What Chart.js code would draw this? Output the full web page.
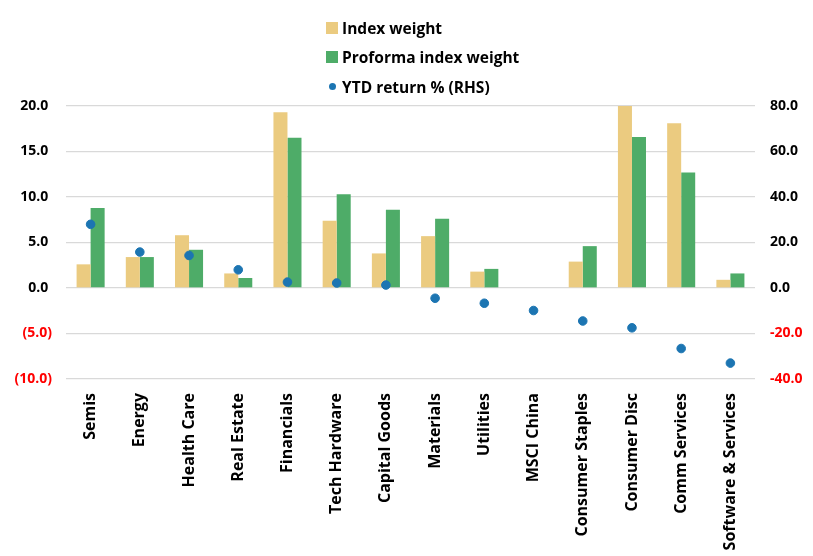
<!DOCTYPE html>
<html>
<head>
<meta charset="utf-8">
<script src="https://cdn.jsdelivr.net/npm/chart.js@4.4.1/dist/chart.umd.min.js"></script>
<style>
  html, body { margin: 0; padding: 0; background: #fff; }
  #wrap { position: relative; width: 813px; height: 556px; }
  #legend { position: absolute; left: 326px; top: 13px; font-family: "Open Sans", sans-serif; font-weight: bold; font-size: 15.5px; color: #000; }
  .item { height: 29.5px; display: flex; align-items: center; }
  .box { width: 12px; height: 12px; margin-right: 4px; }
  .dot { width: 7px; height: 7px; border-radius: 50%; margin: 0 6px 0 3px; }
</style>
</head>
<body>
<div id="wrap">
  <canvas id="c" width="813" height="556"></canvas>
  <div id="legend"></div>
</div>
<script>
const categories = ["Semis", "Energy", "Health Care", "Real Estate", "Financials", "Tech Hardware", "Capital Goods", "Materials", "Utilities", "MSCI China", "Consumer Staples", "Consumer Disc", "Comm Services", "Software & Services"];
const indexWeight = [2.6, 3.4, 5.8, 1.6, 19.3, 7.4, 3.8, 5.7, 1.8, null, 2.9, 20.6, 18.1, 0.9];
const proformaWeight = [8.8, 3.4, 4.2, 1.1, 16.5, 10.3, 8.6, 7.6, 2.1, null, 4.6, 16.6, 12.7, 1.6];
const ytdReturn = [28.0, 15.8, 14.3, 8.0, 2.6, 2.2, 1.3, -4.5, -6.7, -9.9, -14.5, -17.5, -26.6, -33.0];
const leftTicks = [-10, -5, 0, 5, 10, 15, 20];
const rightTicks = [-40, -20, 0, 20, 40, 60, 80];
const seriesNames = ["Index weight", "Proforma index weight", "YTD return % (RHS)"];
const colors = ["#EBCB80", "#4EAC68", "#1C75B2"];

const FONT = "'Open Sans', sans-serif";

// legend
const lg = document.getElementById('legend');
seriesNames.forEach((n, i) => {
  const d = document.createElement('div'); d.className = 'item';
  const m = document.createElement('span'); m.className = i < 2 ? 'box' : 'dot'; m.style.background = colors[i];
  const t = document.createElement('span'); t.textContent = n;
  d.appendChild(m); d.appendChild(t); lg.appendChild(d);
});

new Chart(document.getElementById('c'), {
  data: {
    labels: categories,
    datasets: [
      { type: 'line', label: seriesNames[2], data: ytdReturn, yAxisID: 'yR', showLine: false,
        pointRadius: 4.3, pointHoverRadius: 4.3, pointBackgroundColor: colors[2], pointBorderColor: colors[2], order: 0 },
      { type: 'bar', label: seriesNames[0], data: indexWeight, yAxisID: 'yL', backgroundColor: colors[0],
        categoryPercentage: 0.57, barPercentage: 1.0, order: 1 },
      { type: 'bar', label: seriesNames[1], data: proformaWeight, yAxisID: 'yL', backgroundColor: colors[1],
        categoryPercentage: 0.57, barPercentage: 1.0, order: 2 }
    ]
  },
  options: {
    responsive: false,
    animation: false,
    layout: { padding: { top: 106, left: 0, right: 0, bottom: 0 } },
    plugins: { legend: { display: false }, tooltip: { enabled: false } },
    scales: {
      x: {
        grid: { display: false },
        border: { display: false },
        ticks: { minRotation: 90, maxRotation: 90, autoSkip: false, padding: 6,
          color: '#000', font: { family: FONT, weight: 'bold', size: 16 } },
        afterFit: s => { s.height = 177; }
      },
      yL: {
        position: 'left', min: -10, max: 20,
        afterBuildTicks: s => { s.ticks = leftTicks.map(v => ({ value: v })); },
        grid: { color: '#D9D9D9', drawTicks: false, lineWidth: 1.3 },
        border: { display: false },
        ticks: { padding: 14,
          callback: v => v < 0 ? '(' + Math.abs(v).toFixed(1) + ')' : v.toFixed(1) + ' ',
          color: c => c.tick.value < 0 ? '#FF0000' : '#000',
          font: { family: FONT, weight: 'bold', size: 14 } },
        afterFit: s => { s.width = 66; }
      },
      yR: {
        position: 'right', min: -40, max: 80,
        afterBuildTicks: s => { s.ticks = rightTicks.map(v => ({ value: v })); },
        grid: { display: false, drawTicks: false },
        border: { display: false },
        ticks: { padding: 15,
          callback: v => v.toFixed(1),
          color: c => c.tick.value < 0 ? '#FF0000' : '#000',
          font: { family: FONT, weight: 'bold', size: 14 } },
        afterFit: s => { s.width = 58; }
      }
    }
  }
});
</script>
</body>
</html>
